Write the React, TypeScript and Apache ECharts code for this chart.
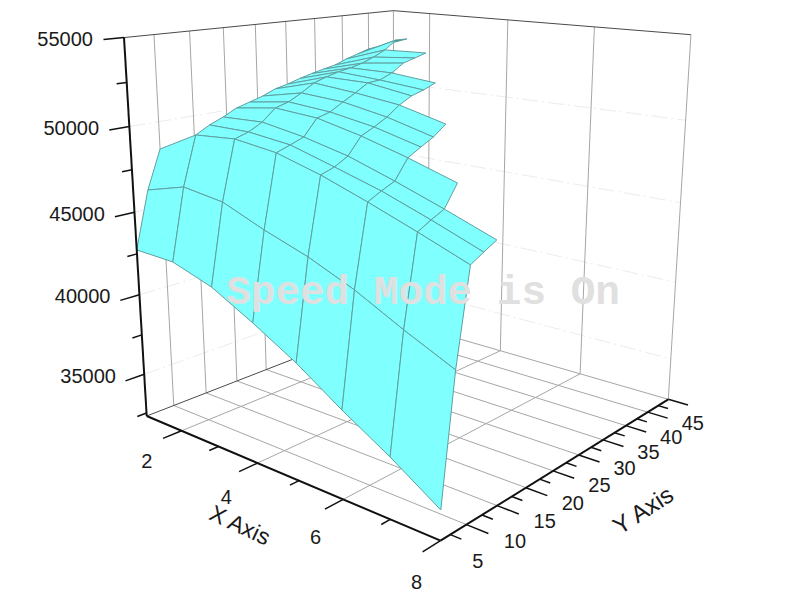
import React, { useEffect, useRef } from "react";
import * as echarts from "echarts";

// ---- data ----
const xValues = [1, 2, 3, 4, 5, 6, 7, 8];
const yValues = [1, 3, 5, 7, 9, 11, 13, 15, 17, 19, 21, 23, 25, 27, 29, 31, 33];
const n = null;
const zRow01 = [42740, 42650, 41850, 40520, 39060, 37330, 35740, 33960];
const zRow02 = [46130, 46810, 46470, 45470, 44610, 43510, 42150, 40900];
const zRow03 = [48390, 49630, 49820, 49490, 48770, 47870, 46900, 45880];
const zRow04 = [n, 50060, 50060, 49760, 49020, 48250, 47300, 46280];
const zRow05 = [n, 50380, 50470, 50040, 49440, 48580, 47650, 46660];
const zRow06 = [n, 50770, 51130, 50940, 50360, 49630, 48800, n];
const zRow07 = [n, 50990, 51350, 51140, 50700, 50040, n, n];
const zRow08 = [n, 51220, 51740, 51570, 51100, 50420, n, n];
const zRow09 = [n, 51530, 52200, 51960, 51630, 50970, n, n];
const zRow10 = [n, 51700, 52440, 52410, 52010, n, n, n];
const zRow11 = [n, 51930, 52630, 52460, 52220, n, n, n];
const zRow12 = [n, 52120, 52760, 52760, 52500, n, n, n];
const zRow13 = [n, 52290, 52940, 53230, n, n, n, n];
const zRow14 = [n, 52440, 53210, 53430, n, n, n, n];
const zRow15 = [n, 52720, 53550, 53630, n, n, n, n];
const zRow16 = [n, 52930, 54070, n, n, n, n, n];
const zRow17 = [n, 53160, 54050, n, n, n, n, n];
const zRows = [zRow01, zRow02, zRow03, zRow04, zRow05, zRow06, zRow07, zRow08, zRow09, zRow10, zRow11, zRow12, zRow13, zRow14, zRow15, zRow16, zRow17];

const xMajor = [2, 4, 6, 8];
const xMinor = [3, 5, 7];
const yMajor = [5, 10, 15, 20, 25, 30, 35, 40, 45];
const yMinor = [2.5, 7.5, 12.5, 17.5, 22.5, 27.5, 32.5, 37.5, 42.5];
const zMajor = [35000, 40000, 45000, 50000, 55000];
const zMinor = [32500, 37500, 42500, 47500, 52500];

const xMin = 1, xMax = 8, yMin = 1, yMax = 45, zMin = 32300, zMax = 55000;

// ---- 3D view: projective camera fitted to the box corners ----
function project(X: number, Y: number, Z: number): [number, number] {
  const u = (X - xMin) / (xMax - xMin);
  const v = (Y - yMin) / (yMax - yMin);
  const w = (Z - zMin) / (zMax - zMin);
  const D = -0.19185 * u + 0.23042 * v - 0.0815 * w + 1;
  return [
    (209.29 * u + 338.09 * v - 32.8 * w + 146.7) / D,
    (20.97 * u - 22.27 * v - 381.5 * w + 416) / D,
  ];
}

type Seg = number[];
const TICK_V = 0.06 * (yMax - yMin);
const TICK_U = 0.06 * (xMax - xMin);

function segSeries(segs: Seg[], stroke: string, width: number, dash?: number[]) {
  return {
    type: "custom",
    coordinateSystem: "cartesian2d",
    silent: true,
    data: segs,
    renderItem: (_p: any, api: any) => {
      const a = api.coord(project(api.value(0), api.value(1), api.value(2)));
      const b = api.coord(project(api.value(3), api.value(4), api.value(5)));
      return {
        type: "line",
        shape: { x1: a[0], y1: a[1], x2: b[0], y2: b[1] },
        style: { stroke, lineWidth: width, lineDash: dash, fill: null },
      };
    },
  };
}

function buildOption() {
  // surface cells, farthest first
  const cells: number[][] = [];
  for (let j = yValues.length - 2; j >= 0; j--) {
    for (let i = 0; i < xValues.length - 1; i++) {
      const z00 = zRows[j][i], z10 = zRows[j][i + 1], z11 = zRows[j + 1][i + 1], z01 = zRows[j + 1][i];
      if (z00 == null || z10 == null || z11 == null || z01 == null) continue;
      cells.push([xValues[i], yValues[j], xValues[i + 1], yValues[j + 1], z00, z10, z11, z01]);
    }
  }

  const wallH: Seg[] = [];
  zMajor.slice(0, 4).forEach((z) => {
    wallH.push([xMin, yMin, z, xMin, yMax, z]);
    wallH.push([xMin, yMax, z, xMax, yMax, z]);
  });
  const grid: Seg[] = [];
  xMajor.slice(0, 3).forEach((x) => {
    grid.push([x, yMin, zMin, x, yMax, zMin]);
    grid.push([x, yMax, zMin, x, yMax, zMax]);
  });
  yMajor.slice(0, 8).forEach((y) => {
    grid.push([xMin, y, zMin, xMax, y, zMin]);
    grid.push([xMin, y, zMin, xMin, y, zMax]);
  });
  grid.push([xMin, yMax, zMin, xMin, yMax, zMax]);
  grid.push([xMin, yMax, zMin, xMax, yMax, zMin]);
  grid.push([xMax, yMax, zMin, xMax, yMax, zMax]);

  const darkEdges: Seg[] = [
    [xMin, yMin, zMax, xMin, yMax, zMax],
    [xMin, yMax, zMax, xMax, yMax, zMax],
    [xMin, yMin, zMin, xMin, yMax, zMin],
  ];
  const axes: Seg[] = [
    [xMin, yMin, zMin, xMin, yMin, zMax],
    [xMin, yMin, zMin, xMax, yMin, zMin],
    [xMax, yMin, zMin, xMax, yMax, zMin],
  ];
  const ticks: Seg[] = [];
  xMajor.forEach((x) => ticks.push([x, yMin, zMin, x, yMin - TICK_V, zMin]));
  xMinor.forEach((x) => ticks.push([x, yMin, zMin, x, yMin - TICK_V / 2, zMin]));
  yMajor.forEach((y) => ticks.push([xMax, y, zMin, xMax + TICK_U, y, zMin]));
  yMinor.forEach((y) => ticks.push([xMax, y, zMin, xMax + TICK_U / 2, y, zMin]));
  zMajor.forEach((z) => ticks.push([xMin, yMin, z, xMin, yMin - TICK_V, z]));
  zMinor.forEach((z) => ticks.push([xMin, yMin, z, xMin, yMin - TICK_V / 2, z]));

  const labelFont = { fontFamily: "Liberation Sans", fontSize: 20, fill: "#1a1a1a" };
  const labels: { at: () => [number, number]; text: string; align: string }[] = [];
  zMajor.forEach((z) =>
    labels.push({
      text: String(z),
      align: "right",
      at: () => [project(xMin, yMin - 0.09 * (yMax - yMin), z)[0], project(xMin, yMin, z)[1] + 1.5],
    })
  );
  xMajor.forEach((x) =>
    labels.push({
      text: String(x),
      align: "center",
      at: () => {
        const b = project(x, yMin, zMin);
        const u = (x - xMin) / (xMax - xMin);
        return [b[0] - 36.5 + 12.5 * u, b[1] + 28.5 + 12.5 * u];
      },
    })
  );
  yMajor.forEach((y) =>
    labels.push({
      text: String(y),
      align: "left",
      at: () => {
        const b = project(xMax, y, zMin);
        const v = (y - yMin) / (yMax - yMin);
        return [b[0] + 5 + 8.4 * v, b[1] + 38 - 14.6 * v];
      },
    })
  );

  return {
    animation: false,
    backgroundColor: "#ffffff",
    grid: { left: 0, right: 0, top: 0, bottom: 0 },
    xAxis: { type: "value", min: 0, max: 800, show: false },
    yAxis: { type: "value", min: 0, max: 600, inverse: true, show: false },
    series: [
      segSeries(wallH, "#ececec", 1, [16, 4, 2, 4]),
      segSeries(grid, "#a6a6a6", 1),
      segSeries(darkEdges, "#4a4a4a", 1),
      {
        type: "custom",
        coordinateSystem: "cartesian2d",
        silent: true,
        data: cells,
        renderItem: (_p: any, api: any) => {
          const x0 = api.value(0), y0 = api.value(1), x1 = api.value(2), y1 = api.value(3);
          const pts = [
            api.coord(project(x0, y0, api.value(4))),
            api.coord(project(x1, y0, api.value(5))),
            api.coord(project(x1, y1, api.value(6))),
            api.coord(project(x0, y1, api.value(7))),
          ];
          let area = 0;
          for (let k = 0; k < 4; k++) {
            const a = pts[k], b = pts[(k + 1) % 4];
            area += a[0] * b[1] - b[0] * a[1];
          }
          return {
            type: "polygon",
            shape: { points: pts },
            style: { fill: area > 0 ? "#2e8b8b" : "#80ffff", stroke: "#5f9f9f", lineWidth: 1 },
          };
        },
      },
      segSeries(ticks, "#111111", 1.5),
      segSeries(axes, "#111111", 2),
      {
        type: "custom",
        coordinateSystem: "cartesian2d",
        silent: true,
        data: labels.map((_, i) => [i, 0]),
        renderItem: (p: any, api: any) => {
          const l = labels[p.dataIndex];
          const c = api.coord(l.at());
          return {
            type: "text",
            x: c[0],
            y: c[1],
            style: { text: l.text, align: l.align, verticalAlign: "middle", ...labelFont },
          };
        },
      },
    ],
    graphic: [
      {
        type: "text",
        z: 100,
        x: 240,
        y: 525,
        rotation: (-25 * Math.PI) / 180,
        style: { text: "X Axis", align: "center", verticalAlign: "middle", fontFamily: "Liberation Sans", fontSize: 23, fill: "#1a1a1a" },
      },
      {
        type: "text",
        z: 100,
        x: 643,
        y: 510,
        rotation: (33 * Math.PI) / 180,
        style: { text: "Y Axis", align: "center", verticalAlign: "middle", fontFamily: "Liberation Sans", fontSize: 24, fill: "#1a1a1a" },
      },
      {
        type: "text",
        z: 100,
        x: 423,
        y: 293,
        style: { text: "Speed Mode is On", align: "center", verticalAlign: "middle", fontFamily: "Liberation Mono", fontSize: 41, fontWeight: "bold", fill: "#e0e0e0" },
      },
    ],
  };
}

export default function App() {
  const ref = useRef<HTMLDivElement>(null);
  useEffect(() => {
    const chart = echarts.init(ref.current!, undefined, { renderer: "svg" });
    chart.setOption(buildOption() as any);
    return () => chart.dispose();
  }, []);
  return <div ref={ref} style={{ position: "fixed", left: 0, top: 0, width: 800, height: 600 }} />;
}
